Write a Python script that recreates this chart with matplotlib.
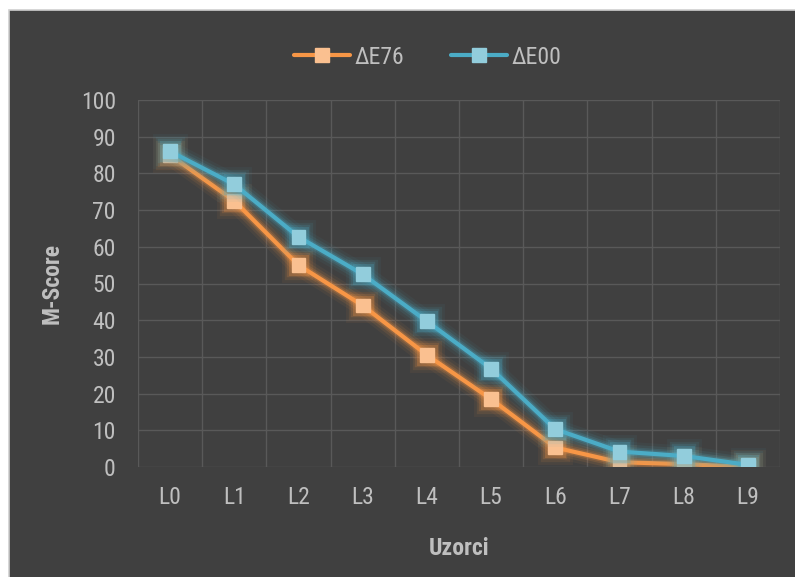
import matplotlib
matplotlib.use("Agg")
import matplotlib.pyplot as plt
import matplotlib.patheffects as pe
from matplotlib.patches import Rectangle
from matplotlib import font_manager

categories = ["L0", "L1", "L2", "L3", "L4", "L5", "L6", "L7", "L8", "L9"]
de76 = [85.0, 72.5, 55.0, 44.0, 30.5, 18.5, 5.3, 1.3, 0.8, 0.0]
de00 = [86.0, 77.0, 62.7, 52.5, 39.7, 26.8, 10.3, 4.2, 3.0, 0.6]
series_names = ["ΔE76", "ΔE00"]
yticks = [0, 10, 20, 30, 40, 50, 60, 70, 80, 90, 100]

avail = {f.name for f in font_manager.fontManager.ttflist}
fam = [f for f in ["Liberation Sans Narrow", "Roboto Condensed", "Open Sans Condensed", "Roboto"] if f in avail] + ["DejaVu Sans"]
plt.rcParams['font.family'] = fam

BG = "#404040"
TXT = "#bfbfbf"
GRID = "#595959"

fig = plt.figure(figsize=(7.95, 5.77), dpi=100)
fig.patch.set_facecolor("white")
bgax = fig.add_axes([0, 0, 1, 1], zorder=-10)
bgax.set_axis_off()
bgax.set_xlim(0, 795)
bgax.set_ylim(577, 0)
bgax.add_patch(Rectangle((8.5, 9.5), 800, 600, facecolor=BG, edgecolor="#d0d0d0", linewidth=1.2))

ax = fig.add_axes([138/795, 1 - 467/577, (780 - 138)/795, (467 - 100)/577], zorder=1)
ax.set_facecolor(BG)

x = list(range(len(categories)))
styles = [("#f79646", "#fac090"), ("#4bacc6", "#92cddc")]
for vals, name, (lc, mc) in zip([de76, de00], series_names, styles):
    glow = [pe.Stroke(linewidth=15, foreground=lc, alpha=0.06),
            pe.Stroke(linewidth=11, foreground=lc, alpha=0.10),
            pe.Stroke(linewidth=7.5, foreground=lc, alpha=0.16),
            pe.Stroke(linewidth=5, foreground=lc, alpha=0.25),
            pe.Normal()]
    ax.plot(x, vals, color=lc, lw=3, marker="s", ms=10, mfc=mc, mec=mc,
            label=name, path_effects=glow, zorder=3, solid_capstyle="round")

ax.set_xlim(-0.5, len(categories) - 0.5)
ax.set_ylim(0, 100)
ax.set_yticks(yticks)
ax.set_xticks(x)
ax.set_xticklabels(categories)
ax.set_xticks([i - 0.5 for i in range(len(categories) + 1)], minor=True)
ax.grid(True, which="major", axis="y", color=GRID, lw=1)
ax.grid(True, which="minor", axis="x", color=GRID, lw=1)
ax.set_axisbelow(True)
ax.tick_params(which="both", length=0)
ax.tick_params(axis="y", pad=16, labelsize=17, labelcolor=TXT)
ax.tick_params(axis="x", pad=14, labelsize=17, labelcolor=TXT)
for s in ax.spines.values():
    s.set_visible(False)

ax.set_ylabel("M-Score", fontsize=17, fontweight="bold", color=TXT, labelpad=12)
ax.set_xlabel("Uzorci", fontsize=17, fontweight="bold", color=TXT, labelpad=20)

leg = fig.legend(loc="center", bbox_to_anchor=(428/795, 1 - 57/577), ncol=2, frameon=False,
                 fontsize=17, labelcolor=TXT, handlelength=2.35, columnspacing=2.0, handletextpad=0.2)
for h in leg.legend_handles:
    h.set_path_effects([])

fig.savefig("out.png", dpi=100, facecolor=fig.get_facecolor())
